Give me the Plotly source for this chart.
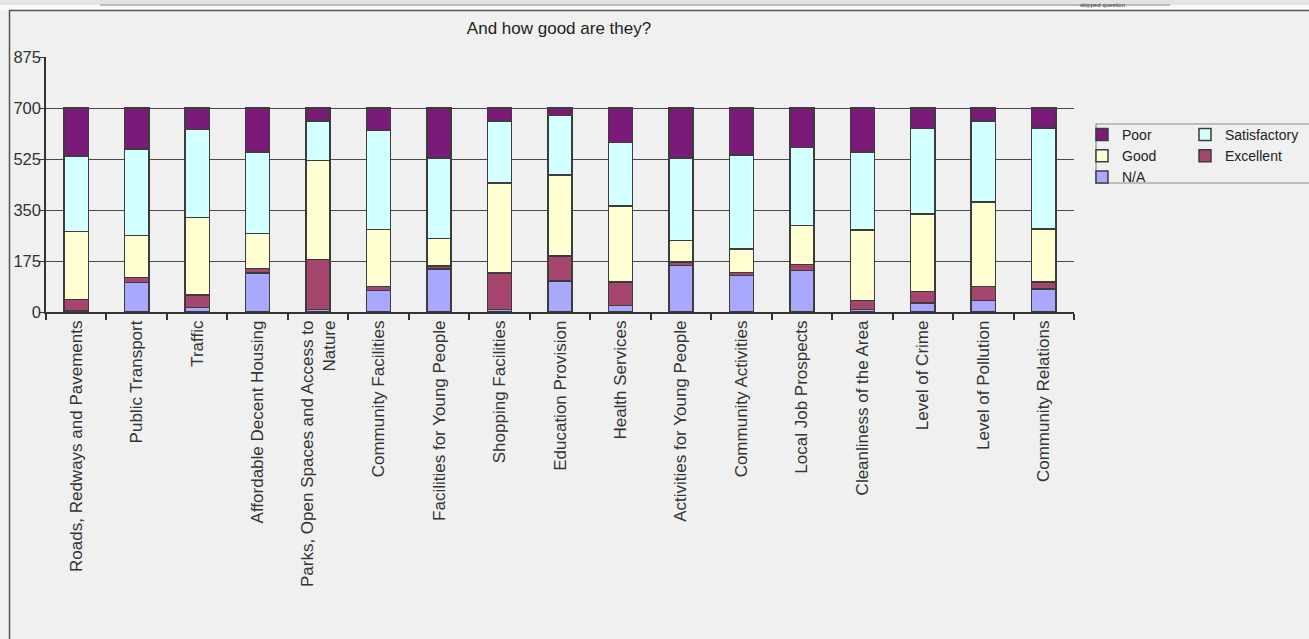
import plotly.graph_objects as go

categorias = ['Roads, Redways and Pavements', 'Public Transport', 'Traffic',
              'Affordable Decent Housing', 'Parks, Open Spaces and Access to<br>Nature',
              'Community Facilities', 'Facilities for Young People', 'Shopping Facilities',
              'Education Provision', 'Health Services', 'Activities for Young People',
              'Community Activities', 'Local Job Prospects', 'Cleanliness of the Area',
              'Level of Crime', 'Level of Pollution', 'Community Relations']

na = [3, 102, 16, 134, 9, 74, 147, 9, 107, 22, 160, 126, 143, 8, 31, 40, 79]
excellent = [40, 17, 42, 16, 172, 14, 11, 125, 85, 81, 12, 10, 20, 32, 40, 47, 24]
good = [234, 143, 266, 120, 339, 195, 95, 309, 278, 260, 74, 81, 133, 241, 265, 291, 181]
satisfactory = [258, 297, 302, 279, 136, 339, 276, 213, 204, 218, 282, 321, 268, 268, 293, 278, 347]
poor = [165, 141, 74, 151, 44, 78, 171, 44, 26, 119, 172, 162, 136, 151, 71, 44, 69]

y_ticks = [0, 175, 350, 525, 700, 875]

W, H = 1309, 639
L, R, T, B = 46, 235, 57, 327
PW, PH = W - L - R, H - T - B


def px(x):
    # pixel -> paper x
    return (x - L) / PW


def py(y):
    # pixel -> paper y
    return (H - B - y) / PH


fonte = 'Arial, Liberation Sans, sans-serif'
borda = dict(color='#3c3c3c', width=1.5)

fig = go.Figure()
series = [('N/A', na, '#A8A8FF', 'legend', 3),
          ('Excellent', excellent, '#A6466F', 'legend2', 2),
          ('Good', good, '#FFFFD2', 'legend', 2),
          ('Satisfactory', satisfactory, '#D2FFFF', 'legend2', 1),
          ('Poor', poor, '#7B1A78', 'legend', 1)]
for nome, valores, cor, leg, rank in series:
    fig.add_trace(go.Bar(x=categorias, y=valores, name=nome,
                         marker=dict(color=cor, line=borda),
                         legend=leg, legendrank=rank))

fig.update_layout(
    width=W, height=H,
    barmode='stack', bargap=0.6,
    paper_bgcolor='#f0f0f0', plot_bgcolor='#f0f0f0',
    margin=dict(l=L, r=R, t=T, b=B, autoexpand=False),
    font=dict(family=fonte, color='#333333'),
    title=dict(text='And how good are they?', xref='paper', x=px(559), xanchor='center',
               y=1 - 28 / H, yanchor='middle',
               font=dict(size=17, color='#222222')),
    legend=dict(x=px(1082), xanchor='left', y=py(119), yanchor='top',
                traceorder='normal', bgcolor='rgba(0,0,0,0)',
                font=dict(size=14, color='#222222')),
    legend2=dict(x=px(1185), xanchor='left', y=py(119), yanchor='top',
                 traceorder='normal', bgcolor='rgba(0,0,0,0)',
                 font=dict(size=14, color='#222222')),
)

fig.update_xaxes(showgrid=False, showline=True, linecolor='#333333', linewidth=1.5,
                 ticks='outside', tickson='boundaries', ticklen=6, tickcolor='#333333',
                 tickwidth=1.5, tickangle=-90, tickfont=dict(size=17, color='#333333'))
fig.update_yaxes(range=[0, 875], tickvals=y_ticks, showgrid=True, gridcolor='#4a4a4a',
                 gridwidth=1.3, zeroline=False, showline=True, linecolor='#333333',
                 linewidth=1.5, ticks='outside', ticklen=5, tickcolor='#333333',
                 ticklabelstandoff=-5, tickfont=dict(size=16.5, color='#333333'))

# moldura da pagina / area do grafico
formas = [
    dict(type='rect', x0=px(0), x1=px(W), y0=py(0), y1=py(10),
         fillcolor='#f8f8f8', line=dict(width=0)),
    dict(type='rect', x0=px(0), x1=px(W), y0=py(0), y1=py(5),
         fillcolor='#e3e3e3', line=dict(width=0)),
    dict(type='line', x0=px(100), x1=px(1170), y0=py(5), y1=py(5),
         line=dict(color='#bcbcbc', width=2)),
    dict(type='line', x0=px(9.5), x1=px(9.5), y0=py(10), y1=py(H),
         line=dict(color='#555555', width=1.5)),
    dict(type='line', x0=px(9), x1=px(W), y0=py(10.5), y1=py(10.5),
         line=dict(color='#555555', width=1.5)),
    dict(type='rect', x0=px(1096), x1=px(1330), y0=py(124), y1=py(183),
         fillcolor='rgba(0,0,0,0)', line=dict(color='#8a8a8a', width=1.2)),
]
for f in formas:
    f['xref'] = 'paper'
    f['yref'] = 'paper'
    fig.add_shape(**f)

fig.add_annotation(text='skipped question', xref='paper', yref='paper',
                   x=px(1102), y=py(0), xanchor='center', yanchor='top',
                   showarrow=False, font=dict(size=6, color='#333333'))

# sem margem do body para o grafico ocupar a janela inteira
fig.write_html('out.html', config={'displayModeBar': False},
               post_script="document.body.style.margin='0';")
